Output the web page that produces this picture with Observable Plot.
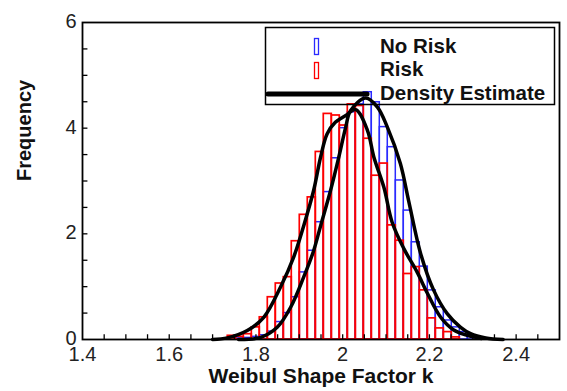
<!DOCTYPE html>
<html><head><meta charset="utf-8">
<script src="https://cdn.jsdelivr.net/npm/d3@7"></script>
<script src="https://cdn.jsdelivr.net/npm/@observablehq/plot@0.6"></script>
<style>
body{margin:0;background:#fff;}
#chart svg{display:block;background:linear-gradient(to right,#f0f0f0 0,#f0f0f0 7px,#fff 7px);}
</style></head><body><div id="chart"></div>
<script>
// Histogram bin edges (shared by both series)
const binEdges = [1.7350,1.7535,1.7719,1.7904,1.8088,1.8273,1.8457,1.8642,1.8826,1.9011,
  1.9195,1.9380,1.9564,1.9749,1.9933,2.0118,2.0302,2.0487,2.0671,2.0856,
  2.1040,2.1225,2.1409,2.1594,2.1778,2.1963,2.2147,2.2332,2.2516,2.2701,2.2885,2.3070];
// Risk histogram heights (red)
const riskCounts = [0.07,0.05,0.10,0.23,0.42,0.80,1.06,1.18,1.86,2.36,
  2.69,3.55,4.27,4.24,4.05,4.45,4.42,3.80,3.10,3.33,
  2.16,1.87,1.24,1.37,0.93,0.40,0.21,0.14,0.04];
// No Risk histogram heights (blue)
const noRiskCounts = [0.00,0.02,0.03,0.05,0.08,0.15,0.33,0.50,0.80,1.27,
  1.68,2.22,2.79,3.43,4.00,4.30,4.45,4.68,4.49,4.02,
  3.64,3.01,2.44,1.84,1.38,0.93,0.61,0.36,0.23,0.14,0.05];
// Density estimate curves
const riskDensityX = [1.700,1.734,1.780,1.818,1.857,1.887,1.910,1.933,1.949,1.964,1.983,2.007,2.030,2.057,2.072,2.095,2.114,2.141,2.172,2.195,2.226,2.256,2.287,2.320];
const riskDensityY = [0.00,0.03,0.17,0.42,1.00,1.56,2.15,2.82,3.45,3.89,4.11,4.24,4.35,3.96,3.45,2.88,2.22,1.72,1.27,0.88,0.42,0.18,0.08,0.02];
const noRiskDensityX = [1.760,1.811,1.849,1.880,1.910,1.933,1.949,1.972,1.991,2.007,2.018,2.053,2.080,2.103,2.133,2.152,2.180,2.210,2.241,2.272,2.295,2.330,2.370];
const noRiskDensityY = [0.00,0.04,0.23,0.61,1.18,1.68,2.15,2.82,3.45,4.02,4.33,4.57,4.40,4.02,3.33,2.63,1.62,0.93,0.49,0.23,0.11,0.03,0.00];
// Axes
const xTickValues = [1.4,1.6,1.8,2,2.2,2.4];
const xMinorTicks = [1.45,1.5,1.55,1.6,1.65,1.7,1.75,1.8,1.85,1.9,1.95,2,2.05,2.1,2.15,2.2,2.25,2.3,2.35,2.4,2.45];
const yTickValues = [0,2,4,6];
const yMinorTicks = [0.5,1,1.5,2,2.5,3,3.5,4,4.5,5,5.5];
const xLabel = "Weibul Shape Factor k";
const yLabel = "Frequency";
const legendLabels = ["No Risk","Risk","Density Estimate"];
const seriesColors = {noRisk:"#2a2aff", risk:"#ff0000"};

const riskBins = riskCounts.map((v,i)=>({x1:binEdges[i],x2:binEdges[i+1],y:v}));
const noRiskBins = noRiskCounts.map((v,i)=>({x1:binEdges[i],x2:binEdges[i+1],y:v}));
const riskDensity = riskDensityX.map((x,i)=>({x,y:riskDensityY[i]}));
const noRiskDensity = noRiskDensityX.map((x,i)=>({x,y:noRiskDensityY[i]}));

const font = "'Liberation Sans', Arial, Helvetica, sans-serif";
const plot = Plot.plot({
  width:567, height:391,
  marginLeft:82, marginRight:8, marginTop:22, marginBottom:52,
  x:{domain:[1.4,2.5], axis:null},
  y:{domain:[0,6], axis:null},
  style:{background:"transparent", fontFamily:font, color:"black"},
  marks:[
    Plot.rect(noRiskBins,{x1:"x1",x2:"x2",y1:0,y2:"y",fill:"none",stroke:seriesColors.noRisk,strokeWidth:1.5}),
    Plot.rect(riskBins,{x1:"x1",x2:"x2",y1:0,y2:"y",fill:"none",stroke:seriesColors.risk,strokeWidth:1.7}),
    Plot.line(riskDensity,{x:"x",y:"y",stroke:"black",strokeWidth:3.5,curve:"catmull-rom"}),
    Plot.line(noRiskDensity,{x:"x",y:"y",stroke:"black",strokeWidth:3.5,curve:"catmull-rom"}),
    Plot.ruleX(xMinorTicks,{x:d=>d,y1:0,y2:0.09,stroke:"black",strokeWidth:1.3}),
    Plot.ruleY(yMinorTicks,{y:d=>d,x1:1.4,x2:1.4125,stroke:"black",strokeWidth:1.3}),
    Plot.frame({stroke:"black",strokeWidth:1.8}),
    Plot.text(xTickValues,{x:d=>d,y:0,dy:15,text:d=>String(d),fontSize:20,fill:"#222"}),
    Plot.text(yTickValues,{x:1.4,y:d=>d,dx:-6,dy:-1,text:d=>String(d),textAnchor:"end",fontSize:20,fill:"#222"}),
    Plot.text([xLabel],{frameAnchor:"bottom",dy:43,text:d=>d,fontSize:21,fontWeight:"bold",fill:"#111"}),
    Plot.text([yLabel],{frameAnchor:"left",dx:-58,rotate:-90,text:d=>d,fontSize:20,fontWeight:"bold",fill:"#111"})
  ]
});

// Legend box (layout only)
const svg = d3.select(plot);
const lg = svg.append("g").attr("font-family",font).attr("text-anchor","start");
lg.append("rect").attr("x",265.5).attr("y",27.5).attr("width",289).attr("height",77)
  .attr("fill","none").attr("stroke","black").attr("stroke-width",1.5);
lg.append("rect").attr("x",314.5).attr("y",38.5).attr("width",4).attr("height",16)
  .attr("fill","none").attr("stroke",seriesColors.noRisk).attr("stroke-width",1.3);
lg.append("rect").attr("x",314.5).attr("y",62.5).attr("width",4).attr("height",16)
  .attr("fill","none").attr("stroke",seriesColors.risk).attr("stroke-width",1.3);
lg.append("line").attr("x1",268).attr("x2",367).attr("y1",94).attr("y2",94)
  .attr("stroke","black").attr("stroke-width",5).attr("stroke-linecap","round");
const baselines = [53,76,100];
legendLabels.forEach((t,i)=>{
  lg.append("text").attr("x",380).attr("y",baselines[i]).attr("font-size",20.5)
    .attr("font-weight","bold").attr("fill","#111").attr("text-anchor","start").text(t);
});
document.getElementById("chart").appendChild(plot);
</script></body></html>
